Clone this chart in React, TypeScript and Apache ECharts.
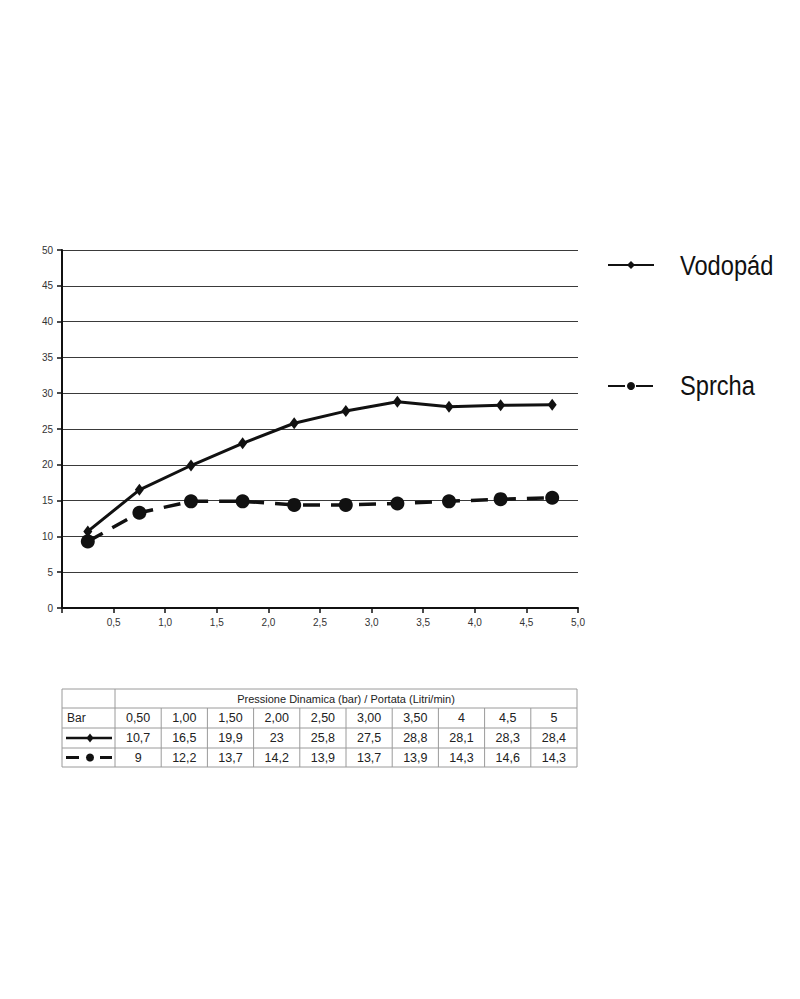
import React, { useEffect, useRef } from "react";
import * as echarts from "echarts";

const xPositions = [0.25, 0.75, 1.25, 1.75, 2.25, 2.75, 3.25, 3.75, 4.25, 4.75];
const vodopadValues = [10.7, 16.5, 19.9, 23, 25.8, 27.5, 28.8, 28.1, 28.3, 28.4];
const sprchaValues = [9.3, 13.3, 14.9, 14.9, 14.4, 14.4, 14.6, 14.9, 15.2, 15.4];

const tableHeader = "Pressione Dinamica (bar) / Portata (Litri/min)";
const tableBarLabel = "Bar";
const tableBar = ["0,50", "1,00", "1,50", "2,00", "2,50", "3,00", "3,50", "4", "4,5", "5"];
const tableVodopad = ["10,7", "16,5", "19,9", "23", "25,8", "27,5", "28,8", "28,1", "28,3", "28,4"];
const tableSprcha = ["9", "12,2", "13,7", "14,2", "13,9", "13,7", "13,9", "14,3", "14,6", "14,3"];

const seriesNames = ["Vodopád", "Sprcha"];

export default function App() {
  const ref = useRef<HTMLDivElement>(null);
  useEffect(() => {
    document.body.style.margin = "0";
    const chart = echarts.init(ref.current!, null, { renderer: "svg" });

    const tL = 62, tR = 577, tT = 689;
    const rowH = [19, 20, 20, 19];
    const rowY = [tT];
    rowH.forEach((h, i) => rowY.push(rowY[i] + h));
    const firstW = 53;
    const colL = tL + firstW;
    const colW = (tR - colL) / tableBar.length;
    const border = "#9a9a9a";
    const font = "Liberation Sans, Arial, sans-serif";
    const els: any[] = [];
    els.push({
      type: "rect",
      shape: { x: tL, y: tT, width: tR - tL, height: rowY[4] - tT },
      style: { fill: "#fff", stroke: border, lineWidth: 1 },
    });
    for (let r = 1; r < 4; r++) {
      els.push({ type: "line", shape: { x1: tL, y1: rowY[r], x2: tR, y2: rowY[r] }, style: { stroke: border, lineWidth: 1 } });
    }
    els.push({ type: "line", shape: { x1: colL, y1: tT, x2: colL, y2: rowY[4] }, style: { stroke: border, lineWidth: 1 } });
    for (let c = 1; c < tableBar.length; c++) {
      const x = colL + c * colW;
      els.push({ type: "line", shape: { x1: x, y1: rowY[1], x2: x, y2: rowY[4] }, style: { stroke: border, lineWidth: 1 } });
    }
    els.push({
      type: "text",
      x: (colL + tR) / 2,
      y: (rowY[0] + rowY[1]) / 2,
      style: { text: tableHeader, fill: "#222", font: `11px ${font}`, align: "center", verticalAlign: "middle" },
    });
    els.push({
      type: "text",
      x: tL + 5,
      y: (rowY[1] + rowY[2]) / 2,
      style: { text: tableBarLabel, fill: "#222", font: `12px ${font}`, align: "left", verticalAlign: "middle" },
    });
    const rows = [tableBar, tableVodopad, tableSprcha];
    rows.forEach((row, ri) => {
      row.forEach((t, ci) => {
        els.push({
          type: "text",
          x: colL + ci * colW + colW / 2,
          y: (rowY[ri + 1] + rowY[ri + 2]) / 2,
          style: { text: t, fill: "#222", font: `12.5px ${font}`, align: "center", verticalAlign: "middle" },
        });
      });
    });
    const y3 = (rowY[2] + rowY[3]) / 2;
    const y4 = (rowY[3] + rowY[4]) / 2;
    const cx = tL + 28;
    els.push({ type: "line", shape: { x1: tL + 4, y1: y3, x2: colL - 3, y2: y3 }, style: { stroke: "#111", lineWidth: 2.5 } });
    els.push({
      type: "polygon",
      shape: { points: [[cx, y3 - 4.5], [cx + 3.5, y3], [cx, y3 + 4.5], [cx - 3.5, y3]] },
      style: { fill: "#111" },
    });
    els.push({ type: "line", shape: { x1: tL + 4, y1: y4, x2: tL + 17, y2: y4 }, style: { stroke: "#111", lineWidth: 3 } });
    els.push({ type: "line", shape: { x1: colL - 15, y1: y4, x2: colL - 3, y2: y4 }, style: { stroke: "#111", lineWidth: 3 } });
    els.push({ type: "circle", shape: { cx: cx, cy: y4, r: 4 }, style: { fill: "#111" } });

    // legend names (condensed)
    const legendY = [265, 385];
    seriesNames.forEach((n, i) => {
      els.push({
        type: "text",
        x: 680,
        y: legendY[i],
        scaleX: 0.845,
        style: { text: n, fill: "#111", font: `28px ${font}`, align: "left", verticalAlign: "middle" },
      });
    });

    chart.setOption({
      animation: false,
      backgroundColor: "#fff",
      grid: { left: 62, right: 222, top: 250, bottom: 391, containLabel: false },
      legend: [
        { data: [seriesNames[0]], left: 607, top: 260, padding: 0, itemWidth: 46, itemHeight: 10, formatter: () => "", textStyle: { fontSize: 1 } },
        { data: [seriesNames[1]], left: 607, top: 381, padding: 0, itemWidth: 46, itemHeight: 10, formatter: () => "", textStyle: { fontSize: 1 } },
      ],
      xAxis: {
        type: "value",
        min: 0,
        max: 5,
        interval: 0.5,
        axisLine: { show: true, lineStyle: { color: "#111", width: 2 } },
        axisTick: { show: true, length: 5, lineStyle: { color: "#111", width: 1.5 } },
        splitLine: { show: false },
        axisLabel: {
          color: "#333",
          fontSize: 10,
          fontFamily: font,
          margin: 9,
          formatter: (v: number) => (v === 0 ? "" : v.toFixed(1).replace(".", ",")),
        },
      },
      yAxis: {
        type: "value",
        min: 0,
        max: 50,
        interval: 5,
        axisLine: { show: true, lineStyle: { color: "#111", width: 2 } },
        axisTick: { show: true, length: 5, lineStyle: { color: "#111", width: 1.5 } },
        splitLine: { show: true, lineStyle: { color: "#3a3a3a", width: 1 } },
        axisLabel: { color: "#333", fontSize: 10, fontFamily: font, margin: 9 },
      },
      series: [
        {
          name: seriesNames[0],
          type: "line",
          data: xPositions.map((x, i) => [x, vodopadValues[i]]),
          symbol: "diamond",
          symbolSize: [9, 12],
          itemStyle: { color: "#111" },
          lineStyle: { color: "#111", width: 3 },
        },
        {
          name: seriesNames[1],
          type: "line",
          data: xPositions.map((x, i) => [x, sprchaValues[i]]),
          symbol: "circle",
          symbolSize: 14,
          itemStyle: { color: "#111" },
          lineStyle: { color: "#111", width: 3.5, type: [17, 11] },
        },
      ],
      graphic: els,
    });
    return () => chart.dispose();
  }, []);
  return <div ref={ref} style={{ width: 800, height: 999 }} />;
}
